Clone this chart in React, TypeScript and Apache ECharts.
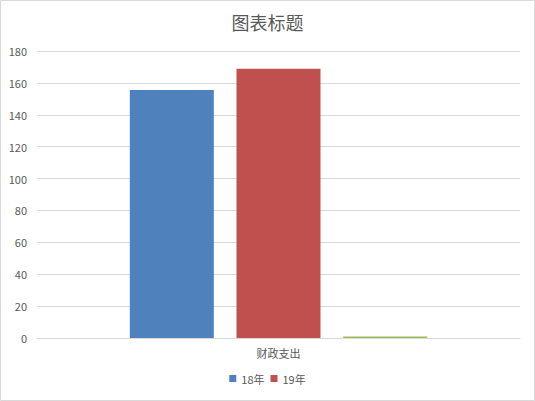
import React, { useEffect, useRef } from "react";
import * as echarts from "echarts";

const categories = ["财政支出"];
const seriesNames = ["18年", "19年", "系列3"];
const values18 = [155.5];
const values19 = [168.8];
const values3 = [1];
const legendNames = ["18年", "19年"];
const colors = ["#4F81BD", "#C0504D", "#9BBB59"];

const FONT = "'Noto Sans CJK SC', 'Microsoft YaHei', sans-serif";

export default function App() {
  const ref = useRef<HTMLDivElement>(null);

  useEffect(() => {
    document.body.style.margin = "0";
    if (!ref.current) return;
    const chart = echarts.init(ref.current, undefined, { renderer: "svg" });
    const data = [values18, values19, values3];
    chart.setOption({
      animation: false,
      backgroundColor: "#ffffff",
      textStyle: { fontFamily: FONT },
      title: {
        text: "图表标题",
        left: "center",
        top: 8,
        textStyle: { color: "#595959", fontSize: 18, fontWeight: "normal", fontFamily: FONT },
      },
      legend: {
        data: legendNames,
        bottom: 12,
        left: "center",
        icon: "rect",
        itemWidth: 7,
        itemHeight: 7,
        itemGap: 6,
        textStyle: { color: "#595959", fontSize: 11, fontFamily: FONT },
      },
      grid: { left: 37, right: 15, top: 51, bottom: 63, containLabel: false },
      xAxis: {
        type: "category",
        data: categories,
        axisLine: { lineStyle: { color: "#d9d9d9" } },
        axisTick: { show: false },
        axisLabel: { color: "#595959", fontSize: 11, margin: 9, fontFamily: FONT },
      },
      yAxis: {
        type: "value",
        min: 0,
        max: 180,
        interval: 20,
        axisLine: { show: false },
        axisTick: { show: false },
        splitLine: { lineStyle: { color: "#d9d9d9" } },
        axisLabel: { color: "#595959", fontSize: 11, margin: 10, fontFamily: FONT },
      },
      graphic: [
        {
          type: "rect",
          shape: { x: 0.5, y: 0.5, width: 534, height: 400 },
          style: { fill: "none", stroke: "#d9d9d9", lineWidth: 1 },
          silent: true,
        },
      ],
      series: seriesNames.map((name, i) => ({
        name,
        type: "bar",
        data: data[i],
        barWidth: 84,
        barGap: "27%",
        itemStyle: { color: colors[i] },
      })),
    });
    return () => chart.dispose();
  }, []);

  return <div ref={ref} style={{ width: 535, height: 401 }} />;
}
